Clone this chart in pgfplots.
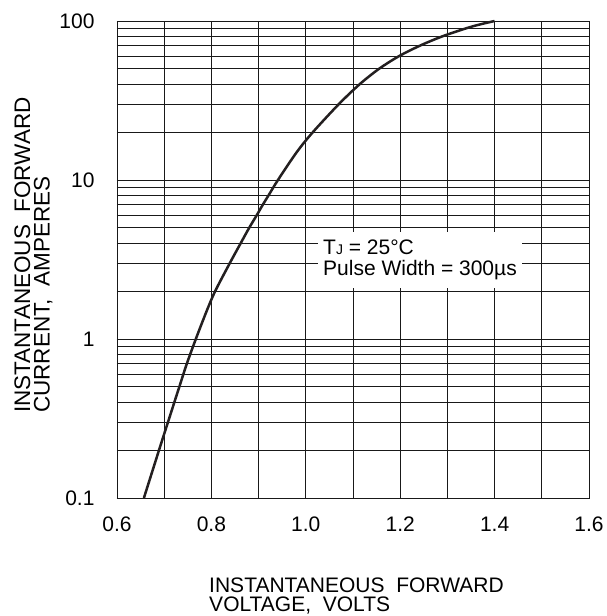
\documentclass[border=0pt]{standalone}
\usepackage{fontspec}
\setmainfont{Liberation Sans}
\usepackage{pgfplots}
\pgfplotsset{compat=1.18}

\definecolor{curve}{HTML}{231F20}

\begin{document}
\begin{tikzpicture}
\useasboundingbox (-117bp,-118bp) rectangle (490bp,498bp);
\begin{axis}[
    at={(0,0)}, anchor=south west,
    scale only axis,
    width=472bp, height=477bp,
    ymode=log,
    xmin=0.6, xmax=1.6,
    ymin=0.1, ymax=100,
    xtick={0.6,0.8,1.0,1.2,1.4,1.6},
    xticklabels={0.6,0.8,1.0,1.2,1.4,1.6},
    minor xtick={0.7,0.9,1.1,1.3,1.5},
    ytick={0.1,1,10,100},
    yticklabels={0.1,1,10,100},
    major tick length=0pt, minor tick length=0pt,
    xmajorgrids, xminorgrids, ymajorgrids, yminorgrids,
    grid style={black!90, line width=0.8bp},
    minor grid style={black!90, line width=0.8bp},
    axis line style={black!90, line width=0.8bp},
    tick label style={font=\fontsize{21bp}{21bp}\selectfont},
    xticklabel style={yshift=-15.5bp},
    yticklabel style={xshift=-19bp},
    xlabel={INSTANTANEOUS\ \ FORWARD\\VOLTAGE,\ \ VOLTS},
    xlabel style={at={(axis description cs:0.195,-0.166)}, anchor=north west,
        align=left, inner sep=0pt,
        font=\fontsize{21bp}{19.5bp}\selectfont},
    ylabel={INSTANTANEOUS\ \ FORWARD\\CURRENT,\ \ AMPERES},
    ylabel style={at={(axis description cs:-0.218,0.178)}, anchor=north west,
        rotate=0, align=left, inner sep=0pt,
        font=\fontsize{22.5bp}{19.5bp}\selectfont},
    clip=false,
]

% forward characteristic
\addplot[curve, line width=2.5bp, smooth, tension=0.5] coordinates {
    (0.657,0.1)
    (0.689,0.2)
    (0.708,0.3)
    (0.732,0.5)
    (0.748,0.7)
    (0.767,1)
    (0.790,1.5)
    (0.808,2)
    (0.839,3)
    (0.862,4)
    (0.880,5)
    (0.896,6)
    (0.909,7)
    (0.921,8)
    (0.941,10)
    (0.981,15)
    (1.015,20)
    (1.070,30)
    (1.114,40)
    (1.155,50)
    (1.197,60)
    (1.242,70)
    (1.289,80)
    (1.340,90)
    (1.368,95)
    (1.400,100)
};

\node[anchor=west, fill=white, align=left, inner xsep=5bp, inner ysep=7.5bp,
      font=\fontsize{21bp}{21bp}\selectfont]
    at (axis cs:1.0258,3.14)
    {T{\fontsize{14bp}{14bp}\selectfont J} = 25°C\\Pulse Width = 300µs};

\end{axis}
\end{tikzpicture}
\end{document}
